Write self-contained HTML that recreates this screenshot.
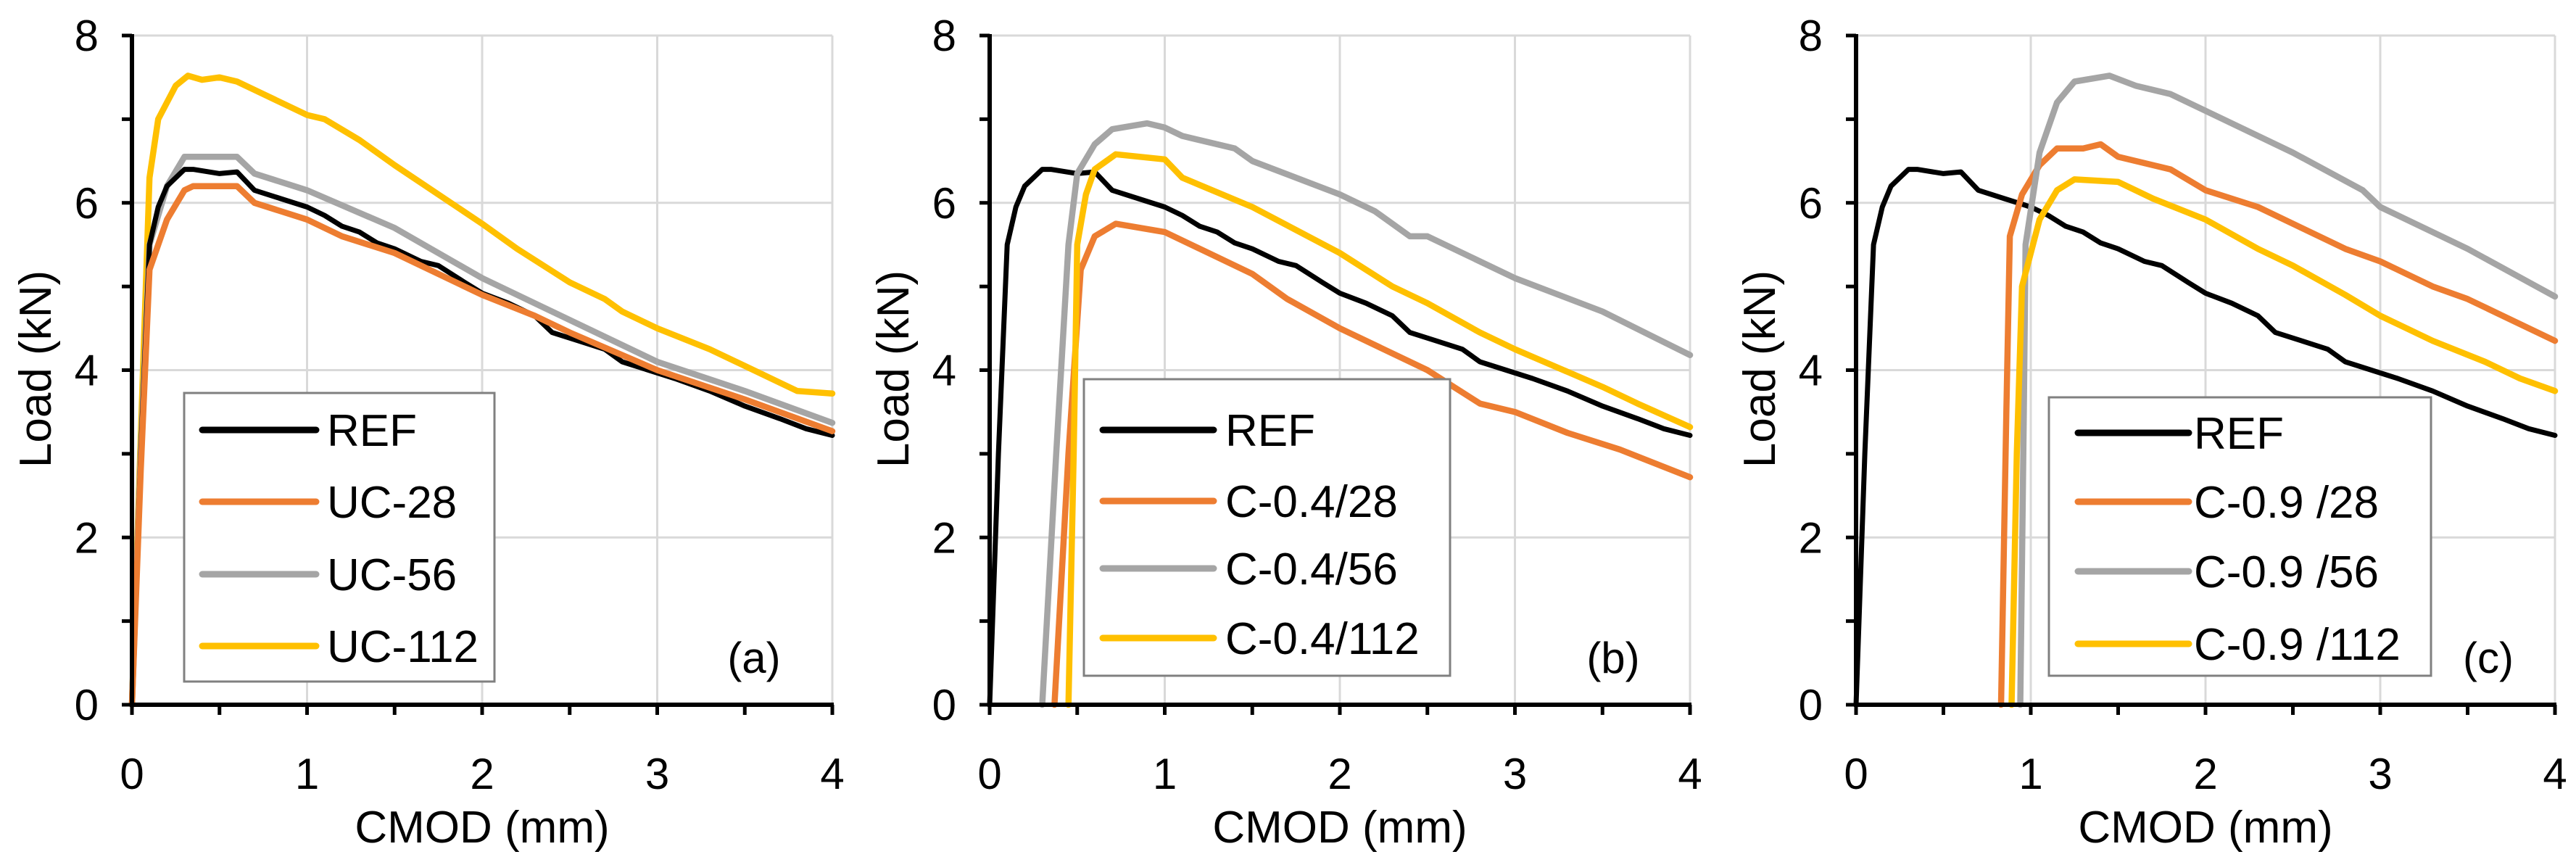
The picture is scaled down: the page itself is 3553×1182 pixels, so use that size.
<!DOCTYPE html>
<html><head><meta charset="utf-8"><style>
html,body{margin:0;padding:0;background:#fff}
svg{display:block}
text{font-family:"Liberation Sans",sans-serif;fill:#000}
</style></head><body>
<svg id="chart" width="3553" height="1182" viewBox="0 0 3553 1182" xmlns="http://www.w3.org/2000/svg"></svg>
<script>
// ---- data ----
const xTicks=[0,1,2,3,4];
const yTicks=[0,2,4,6,8];
const refX=[0,0.05,0.1,0.15,0.2,0.3,0.35,0.5,0.6,0.7,0.85,1.0,1.1,1.2,1.3,1.4,1.5,1.65,1.75,1.9,2.0,2.15,2.3,2.4,2.55,2.7,2.8,2.95,3.1,3.3,3.5,3.7,3.85,4.0];
const refY=[0,3.0,5.5,5.95,6.2,6.4,6.4,6.35,6.37,6.15,6.05,5.95,5.85,5.72,5.65,5.52,5.45,5.3,5.25,5.05,4.92,4.8,4.65,4.45,4.35,4.25,4.1,4.0,3.9,3.75,3.57,3.42,3.3,3.22];
const uc28X=[0,0.05,0.1,0.2,0.3,0.35,0.6,0.7,1.0,1.2,1.5,2.0,2.3,2.5,3.0,3.5,4.0];
const uc28Y=[0,2.8,5.2,5.8,6.15,6.2,6.2,6.0,5.8,5.6,5.4,4.9,4.65,4.45,4.0,3.65,3.27];
const uc56X=[0,0.05,0.1,0.2,0.3,0.6,0.7,1.0,1.5,2.0,2.5,3.0,3.5,4.0];
const uc56Y=[0,3.0,5.5,6.2,6.55,6.55,6.35,6.15,5.7,5.1,4.6,4.1,3.75,3.37];
const uc112X=[0,0.05,0.1,0.15,0.25,0.32,0.4,0.5,0.6,0.8,1.0,1.1,1.3,1.5,2.0,2.2,2.5,2.7,2.8,3.0,3.3,3.5,3.7,3.8,4.0];
const uc112Y=[0,3.2,6.3,7.0,7.4,7.52,7.47,7.5,7.45,7.25,7.05,7.0,6.75,6.45,5.75,5.45,5.05,4.85,4.7,4.5,4.25,4.05,3.85,3.75,3.72];
const b28X=[0.37,0.45,0.52,0.6,0.72,1.0,1.3,1.5,1.7,2.0,2.5,2.8,3.0,3.3,3.6,4.0];
const b28Y=[0,3.0,5.2,5.6,5.75,5.65,5.35,5.15,4.85,4.5,4.0,3.6,3.5,3.25,3.05,2.72];
const b56X=[0.3,0.38,0.45,0.5,0.6,0.7,0.9,1.0,1.1,1.4,1.5,2.0,2.2,2.4,2.5,3.0,3.5,4.0];
const b56Y=[0,3.0,5.5,6.35,6.7,6.88,6.95,6.9,6.8,6.65,6.5,6.1,5.9,5.6,5.6,5.1,4.7,4.18];
const b112X=[0.45,0.48,0.5,0.55,0.6,0.72,1.0,1.1,1.5,2.0,2.3,2.5,2.8,3.0,3.5,3.7,4.0];
const b112Y=[0,3.0,5.5,6.1,6.4,6.58,6.52,6.3,5.95,5.4,5.0,4.8,4.45,4.25,3.8,3.6,3.32];
const c28X=[0.83,0.86,0.88,0.95,1.05,1.15,1.3,1.4,1.5,1.8,2.0,2.3,2.5,2.8,3.0,3.3,3.5,4.0];
const c28Y=[0,3.5,5.6,6.1,6.45,6.65,6.65,6.7,6.55,6.4,6.15,5.95,5.75,5.45,5.3,5.0,4.85,4.35];
const c56X=[0.94,0.96,0.97,1.05,1.15,1.25,1.45,1.6,1.8,2.0,2.5,2.9,3.0,3.5,4.0];
const c56Y=[0,3.5,5.5,6.6,7.2,7.45,7.52,7.4,7.3,7.1,6.6,6.15,5.95,5.45,4.88];
const c112X=[0.89,0.92,0.95,1.05,1.15,1.25,1.5,1.7,2.0,2.3,2.5,2.8,3.0,3.3,3.6,3.8,4.0];
const c112Y=[0,3.0,5.0,5.8,6.15,6.28,6.25,6.05,5.8,5.45,5.25,4.9,4.65,4.35,4.1,3.9,3.75];
const COL={ref:"#000000",o:"#ED7D31",g:"#A5A5A5",y:"#FFC000"};

const panels=[
 {id:"a",x0:182,x1:1148,tag:"(a)",tagX:1040,
  leg:{x:254,y:542,w:428,h:398,lx1:279,lx2:436,tx:451,ys:[593,692,792,891]},
  series:[["ref",refX,refY,COL.ref,"REF"],["uc-28",uc28X,uc28Y,COL.o,"UC-28"],["uc-56",uc56X,uc56Y,COL.g,"UC-56"],["uc-112",uc112X,uc112Y,COL.y,"UC-112"]],
  order:[3,2,0,1]},
 {id:"b",x0:1365,x1:2331,tag:"(b)",tagX:2225,
  leg:{x:1495,y:523,w:505,h:409,lx1:1521,lx2:1674,tx:1690,ys:[593,691,784,880]},
  series:[["ref",refX,refY,COL.ref,"REF"],["c-0.4-28",b28X,b28Y,COL.o,"C-0.4/28"],["c-0.4-56",b56X,b56Y,COL.g,"C-0.4/56"],["c-0.4-112",b112X,b112Y,COL.y,"C-0.4/112"]],
  order:[0,1,2,3]},
 {id:"c",x0:2560,x1:3524,tag:"(c)",tagX:3432,
  leg:{x:2826,y:548,w:527,h:384,lx1:2866,lx2:3019,tx:3026,ys:[597,692,788,888]},
  series:[["ref",refX,refY,COL.ref,"REF"],["c-0.9-28",c28X,c28Y,COL.o,"C-0.9 /28"],["c-0.9-56",c56X,c56Y,COL.g,"C-0.9 /56"],["c-0.9-112",c112X,c112Y,COL.y,"C-0.9 /112"]],
  order:[0,1,2,3]}
];
const Y8=49,Y0=972;
const svg=document.getElementById('chart');
const NS="http://www.w3.org/2000/svg";
function mk(tag,attrs,parent){const e=document.createElementNS(NS,tag);for(const k in attrs)e.setAttribute(k,attrs[k]);parent.appendChild(e);return e;}
panels.forEach(p=>{
  const sx=v=>p.x0+(p.x1-p.x0)*v/4;
  const sy=v=>Y0-(Y0-Y8)*v/8;
  const g=mk('g',{},svg);
  
  
  xTicks.forEach(t=>{if(t===0)return;const l=mk('line',{x1:sx(t),x2:sx(t),y1:Y8,y2:Y0,stroke:"#d9d9d9","stroke-width":3},g);
    });
  yTicks.forEach(t=>{if(t===0)return;const l=mk('line',{x1:p.x0,x2:p.x1,y1:sy(t),y2:sy(t),stroke:"#d9d9d9","stroke-width":3},g);
    });
  p.order.forEach(i=>{const s=p.series[i];
    const d=s[1].map((x,k)=>(k?'L':'M')+sx(x).toFixed(1)+','+sy(s[2][k]).toFixed(1)).join(' ');
    const path=mk('path',{d:d,fill:"none",stroke:s[3],"stroke-width":i===0?7:8.5,"stroke-linejoin":"round","stroke-linecap":"round"},g);
    });
  const ax=mk('line',{x1:p.x0,x2:p.x0,y1:Y8-2,y2:Y0+3,stroke:"#000","stroke-width":6},g);
  
  const axx=mk('line',{x1:p.x0-3,x2:p.x1+2,y1:Y0,y2:Y0,stroke:"#000","stroke-width":6},g);
  
  for(let v=0;v<=8;v++){const tk=mk('line',{x1:p.x0-14,x2:p.x0,y1:sy(v),y2:sy(v),stroke:"#000","stroke-width":5},g);
    }
  for(let v=0;v<=8;v++){const tk=mk('line',{x1:sx(v/2),x2:sx(v/2),y1:Y0,y2:Y0+14,stroke:"#000","stroke-width":5},g);
    }
  yTicks.forEach(t=>{const tx=mk('text',{x:p.x0-46,y:sy(t)+21,"font-size":60,"text-anchor":"end"},g);tx.textContent=t;
    });
  xTicks.forEach(t=>{const tx=mk('text',{x:sx(t),y:1088,"font-size":60,"text-anchor":"middle"},g);tx.textContent=t;
    });
  const xt=mk('text',{x:(p.x0+p.x1)/2,y:1162,"font-size":62,"text-anchor":"middle"},g);xt.textContent="CMOD (mm)";
  
  const yt=mk('text',{x:0,y:0,"font-size":62,"text-anchor":"middle",transform:`translate(${p.x0-112},509) rotate(-90)`},g);yt.textContent="Load (kN)";
  
  const tg=mk('text',{x:p.tagX,y:928,"font-size":60,"text-anchor":"middle"},g);tg.textContent=p.tag;
  
  const L=p.leg;
  const lg=mk('g',{},g);
  
  mk('rect',{x:L.x,y:L.y,width:L.w,height:L.h,fill:"#fff",stroke:"#808080","stroke-width":3},lg);
  p.series.forEach((s,i)=>{
    const e=mk('g',{},lg);
    
    mk('line',{x1:L.lx1,x2:L.lx2,y1:L.ys[i],y2:L.ys[i],stroke:s[3],"stroke-width":9,"stroke-linecap":"round"},e);
    const t=mk('text',{x:L.tx,y:L.ys[i]+22,"font-size":62},e);t.textContent=s[4];
  });
});
</script>
</body></html>
